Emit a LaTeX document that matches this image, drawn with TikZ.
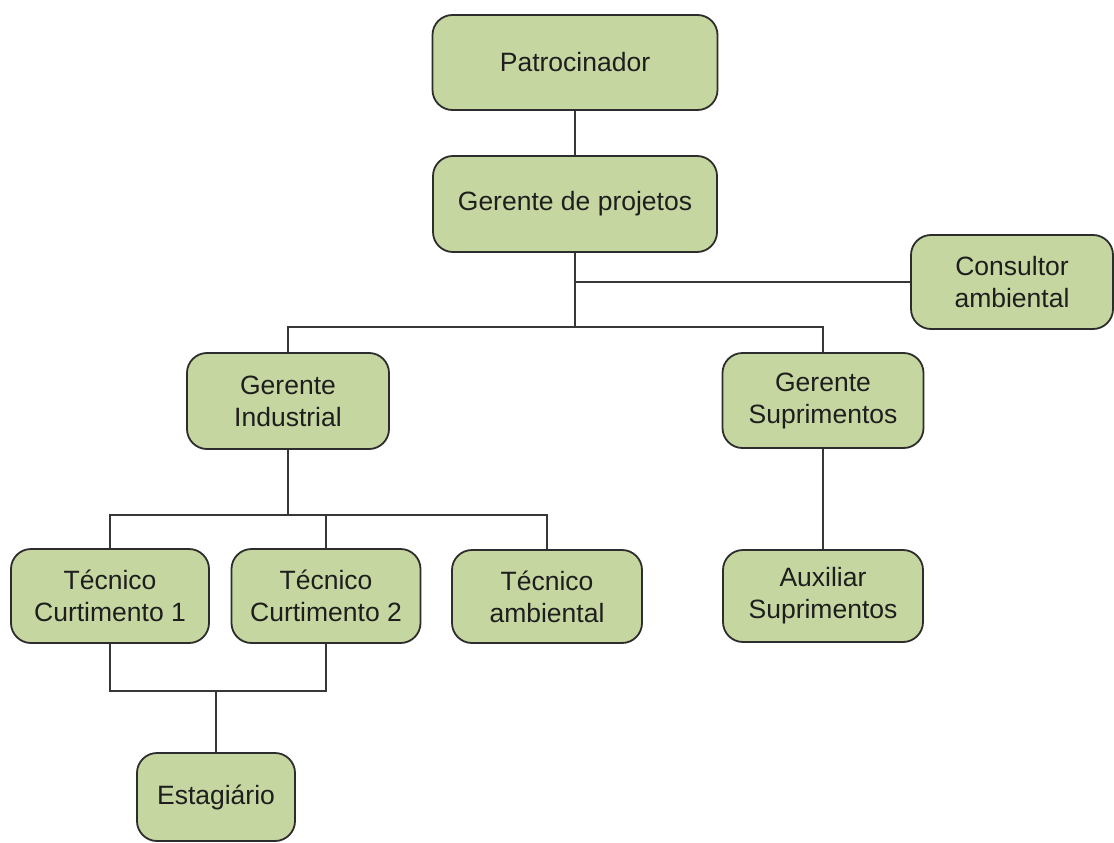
\documentclass[tikz,border=0pt]{standalone}
\usepackage{fontspec}
\setmainfont{Liberation Sans}
\definecolor{boxfill}{RGB}{198,214,160}
\definecolor{boxline}{RGB}{45,45,45}
\definecolor{wire}{RGB}{55,55,55}
\definecolor{label}{RGB}{30,30,30}
\begin{document}
\begin{tikzpicture}[x=1pt,y=-1pt,
  role/.style={draw=boxline, line width=1.8pt, fill=boxfill,
    rounded corners=20pt, align=center, inner sep=0pt,
    text=label, font=\fontsize{26.5}{32}\selectfont},
  link/.style={draw=wire, line width=1.8pt}]
  % page
  \fill[white] (0,0) rectangle (1114,843);
  \useasboundingbox (0,0) rectangle (1114,843);

  % roles
  \node[role, minimum width=285pt, minimum height=95pt] (pat) at (575,62.5) {Patrocinador};
  \node[role, minimum width=284pt, minimum height=96pt] (gdp) at (575,204) {Gerente de projetos};
  \node[role, minimum width=202pt, minimum height=94pt] (cons) at (1012,282) {Consultor\\ambiental};
  \node[role, minimum width=202pt, minimum height=96pt] (gi) at (288,401) {Gerente\\Industrial};
  \node[role, minimum width=201pt, minimum height=95pt] (gs) at (823,400.5) {Gerente\\Suprimentos};
  \node[role, minimum width=198pt, minimum height=94pt] (tc1) at (110,596) {Técnico\\Curtimento 1};
  \node[role, minimum width=189pt, minimum height=94pt] (tc2) at (326,596) {Técnico\\Curtimento 2};
  \node[role, minimum width=190pt, minimum height=93pt] (ta) at (547,596.5) {Técnico\\ambiental};
  \node[role, minimum width=200pt, minimum height=92pt] (aux) at (823,596) {Auxiliar\\Suprimentos};
  \node[role, minimum width=158pt, minimum height=88pt] (est) at (216,797) {Estagiário};

  % junction points
  \coordinate (tapC) at (575,282);
  \coordinate (busA) at (575,327);
  \coordinate (busB) at (288,515);
  \coordinate (busC) at (216,691);

  % connectors
  \draw[link] (pat.south) -- (gdp.north);
  \draw[link] (gdp.south) -- (busA);
  \draw[link] (tapC) -- (cons.west);
  \draw[link] (gi.north) |- (busA) -| (gs.north);
  \draw[link] (gi.south) -- (busB);
  \draw[link] (tc1.north) |- (busB) -| (ta.north);
  \draw[link] (tc2.north) -- (tc2.north |- busB);
  \draw[link] (gs.south) -- (aux.north);
  \draw[link] (tc1.south) |- (busC) -| (tc2.south);
  \draw[link] (busC) -- (est.north);
\end{tikzpicture}
\end{document}
